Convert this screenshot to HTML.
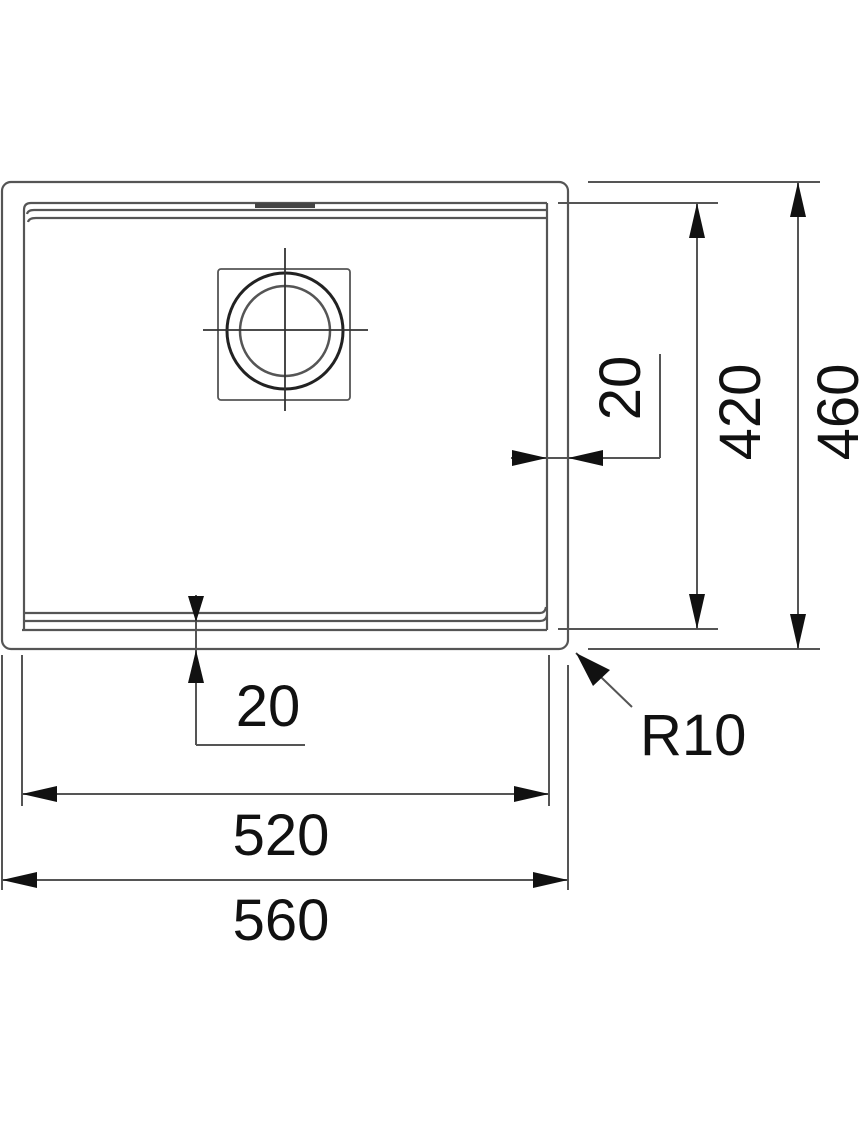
<!DOCTYPE html>
<html><head><meta charset="utf-8"><style>html,body{margin:0;padding:0;background:#fff}svg{display:block}</style></head>
<body>
<svg width="860" height="1125" viewBox="0 0 860 1125" xmlns="http://www.w3.org/2000/svg" font-family="Liberation Sans, sans-serif">
<g fill="none" stroke="#555" stroke-width="2.2">
<rect x="2" y="182" width="566" height="467" rx="9"/>
<path d="M24,630 V210 Q24,203 31,203 H547"/>
<path d="M547,203 V630 M22,630 H547"/>
<path d="M27,214 Q28,210 34,210 H547"/>
<path d="M28,222 Q29,218 36,218 H547"/>
<path d="M24,613 H540 Q545,613 546,607"/>
<path d="M24,621 H540 Q546,621 547,615"/>
<rect x="218" y="269" width="132" height="131" rx="3" stroke-width="1.8"/>
</g>
<rect x="255" y="203" width="60" height="5" fill="#444"/>
<circle cx="285" cy="331" r="58" fill="none" stroke="#222" stroke-width="3"/>
<circle cx="285" cy="331" r="45" fill="none" stroke="#555" stroke-width="2.5"/>
<g stroke="#333" stroke-width="1.8">
<line x1="285" y1="248" x2="285" y2="411"/>
<line x1="203" y1="330" x2="368" y2="330"/>
</g>
<g stroke="#555" stroke-width="2" fill="none">
<line x1="558" y1="203" x2="718" y2="203"/>
<line x1="558" y1="629" x2="718" y2="629"/>
<line x1="588" y1="182" x2="820" y2="182"/>
<line x1="588" y1="649" x2="820" y2="649"/>
<line x1="697" y1="203" x2="697" y2="629"/>
<line x1="798" y1="182" x2="798" y2="649"/>
<line x1="511" y1="458" x2="660" y2="458"/>
<line x1="660" y1="354" x2="660" y2="458"/>
<line x1="196" y1="595" x2="196" y2="745"/>
<line x1="196" y1="745" x2="305" y2="745"/>
<line x1="22" y1="655" x2="22" y2="806"/>
<line x1="549" y1="655" x2="549" y2="806"/>
<line x1="2" y1="655" x2="2" y2="890"/>
<line x1="568" y1="665" x2="568" y2="890"/>
<line x1="22" y1="794" x2="549" y2="794"/>
<line x1="2" y1="880" x2="568" y2="880"/>
<line x1="576" y1="653" x2="632" y2="707"/>
</g>
<g fill="#111">
<polygon points="697,203 689,238 705,238"/>
<polygon points="697,629 689,594 705,594"/>
<polygon points="798,182 790,217 806,217"/>
<polygon points="798,649 790,614 806,614"/>
<polygon points="547,458 512,450 512,466"/>
<polygon points="568,458 603,450 603,466"/>
<polygon points="196,622 188,596 204,596"/>
<polygon points="196,650 188,683 204,683"/>
<polygon points="22,794 57,786 57,802"/>
<polygon points="549,794 514,786 514,802"/>
<polygon points="2,880 37,872 37,888"/>
<polygon points="568,880 533,872 533,888"/>
<polygon points="576,653 610,670 593,686"/>
</g>
<g fill="#111" font-size="58">
<text x="281" y="855" text-anchor="middle">520</text>
<text x="281" y="940" text-anchor="middle">560</text>
<text x="268" y="726" text-anchor="middle">20</text>
<text x="640" y="755">R10</text>
<text transform="translate(640,388) rotate(-90)" text-anchor="middle">20</text>
<text transform="translate(760,412) rotate(-90)" text-anchor="middle">420</text>
<text transform="translate(858,412) rotate(-90)" text-anchor="middle">460</text>
</g>
</svg>
</body></html>
